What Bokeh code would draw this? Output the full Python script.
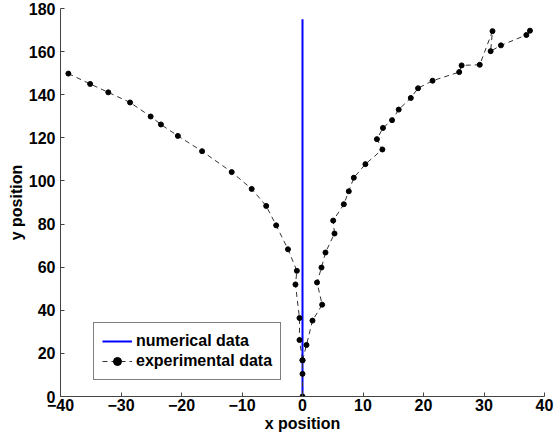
from bokeh.plotting import figure
from bokeh.models import Range1d, FixedTicker, Legend, LegendItem
from bokeh.embed import file_html
from bokeh.resources import INLINE

# numerical data
x_num = [0, 0]
y_num = [0, 175]

# experimental data (left branch, from top down to origin)
x_left = [-38.7, -35.1, -32.1, -28.5, -25.1, -23.4, -20.6, -16.6, -11.7, -8.4, -6.0,
          -4.35, -2.4, -0.93, -1.16, -0.5, -0.5, 0.0, 0.0, 0.0]
y_left = [149.8, 145.0, 141.1, 136.4, 129.9, 126.2, 120.9, 113.8, 104.1, 96.3, 88.4,
          79.4, 68.3, 58.3, 52.0, 36.4, 26.2, 16.8, 10.5, 0.0]

# experimental data (right branch, from bottom up)
x_right = [0.0, 0.66, 1.65, 3.25, 2.4, 3.14, 3.8, 5.29, 5.07, 6.83, 7.65, 8.48, 10.4,
           13.2, 12.3, 13.3, 14.8, 15.9, 17.9, 19.1, 21.5, 25.9, 26.3, 29.3, 31.4,
           31.1, 32.8, 37.0, 37.6]
y_right = [16.8, 23.9, 35.2, 42.6, 52.9, 59.8, 66.8, 75.6, 81.6, 89.2, 95.2, 101.5, 107.8,
           114.6, 119.4, 124.6, 128.2, 133.1, 138.5, 143.0, 146.5, 150.5, 153.6, 153.9, 169.5,
           160.2, 162.9, 167.7, 169.7]

x_ticks = [-40, -30, -20, -10, 0, 10, 20, 30, 40]
y_ticks = [0, 20, 40, 60, 80, 100, 120, 140, 160, 180]

p = figure(width=555, height=441, output_backend="svg", toolbar_location=None,
           x_range=Range1d(-40, 40), y_range=Range1d(0, 180),
           min_border_left=60, min_border_right=11, min_border_top=8, min_border_bottom=45)

p.xgrid.visible = False
p.ygrid.visible = False
p.outline_line_color = None

num = p.line(x_num, y_num, line_color="#0000ff", line_width=2)
l1 = p.line(x_left, y_left, line_color="#333333", line_width=1, line_dash="5 4")
s1 = p.scatter(x_left, y_left, size=5, color="black")
l2 = p.line(x_right, y_right, line_color="#333333", line_width=1, line_dash="5 4")
s2 = p.scatter(x_right, y_right, size=5, color="black")

legend = Legend(items=[
    LegendItem(label="numerical data", renderers=[num]),
    LegendItem(label="experimental data", renderers=[l1, s1]),
], location=(33, 16))
legend.label_text_font = "Liberation Sans"
legend.label_text_font_style = "bold"
legend.label_text_font_size = "16px"
legend.label_text_color = "black"
legend.glyph_width = 30
legend.glyph_height = 20
legend.label_height = 20
legend.label_standoff = 4
legend.padding = 8
legend.spacing = 0
legend.margin = 0
legend.border_line_color = "black"
legend.border_line_width = 1
legend.background_fill_alpha = 1
p.add_layout(legend, "center")

for ax, ticks, label in [(p.xaxis[0], x_ticks, "x position"), (p.yaxis[0], y_ticks, "y position")]:
    ax.ticker = FixedTicker(ticks=ticks)
    ax.major_label_overrides = {t: (("\u2212" + str(-t)) if t < 0 else str(t)) for t in ticks}
    ax.axis_label = label
    ax.axis_label_text_font = "Liberation Sans"
    ax.axis_label_text_font_style = "bold"
    ax.axis_label_text_font_size = "16px"
    ax.axis_label_text_color = "black"
    ax.major_label_text_font = "Liberation Sans"
    ax.major_label_text_font_style = "bold"
    ax.major_label_text_font_size = "16px"
    ax.major_label_text_color = "black"
    ax.major_tick_in = 4
    ax.major_tick_out = 0
    ax.minor_tick_in = 0
    ax.minor_tick_out = 0
    ax.axis_line_color = "#444444"
    ax.major_tick_line_color = "#444444"

p.xaxis.major_label_standoff = 2
p.xaxis.axis_label_standoff = 1
p.yaxis.major_label_standoff = 5
p.yaxis.axis_label_standoff = 1

open("out.html", "w").write(file_html(p, INLINE))
